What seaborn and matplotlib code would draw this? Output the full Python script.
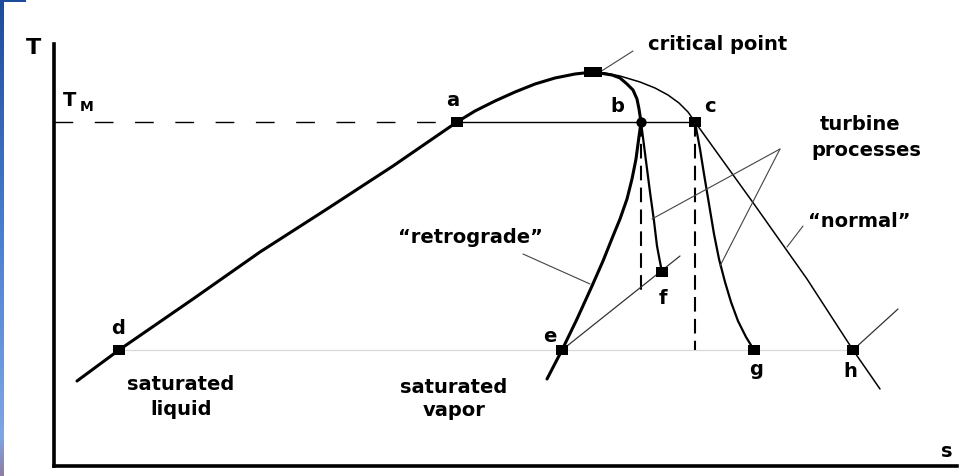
import numpy as np
import matplotlib
matplotlib.use("Agg")
import matplotlib.pyplot as plt
from matplotlib.colors import LinearSegmentedColormap
from matplotlib.patches import Rectangle
import seaborn as sns

# ---- T-s diagram data (entropy s, temperature T, arbitrary units) ----
# saturated liquid line, up to the critical point
liq_s = [23, 65, 139, 206, 273, 339, 403, 421, 441, 461, 481, 501, 521, 539]
liq_T = [85, 116, 167, 214, 257, 300, 344, 355, 365, 374, 382, 388, 392, 394]

# saturated vapor line of a "retrograde" (dry) fluid
retro_s = [539, 558, 566, 573, 579, 583, 585, 587, 584, 582, 578, 573, 566,
           559, 549, 538, 523, 508, 493]
retro_T = [394, 391, 388, 382, 376, 367, 357, 344, 322, 307, 287, 267, 247,
           230, 205, 180, 147, 116, 87]

# saturated vapor line of a "normal" (wet) fluid
norm_s = [539, 551, 566, 586, 601, 614, 625, 634, 641, 700, 753, 799, 826]
norm_T = [394, 393, 390, 384, 378, 371, 363, 354, 344, 262, 187, 116, 77]

# turbine expansions b -> f and c -> g
bf_s = [587, 592, 596, 600, 603, 606, 608]
bf_T = [344, 305, 274, 245, 220, 204, 194]
cg_s = [641, 646, 650, 655, 660, 665, 671, 677, 684, 692, 700]
cg_T = [344, 317, 292, 262, 232, 207, 184, 164, 145, 129, 116]

# temperature levels
T_M = 344
T_cond = 116

# condenser isobars in the superheated region
iso_e_s = [508, 626]
iso_e_T = [116, 210]
iso_h_s = [799, 844]
iso_h_T = [116, 157]

# isentropic references from b and c
isen_b_s = [587, 587]
isen_b_T = [344, 176]
isen_c_s = [641, 641]
isen_c_T = [344, 116]

# state points
pt_names = ["a", "c", "d", "e", "f", "g", "h"]
pt_s = [403, 641, 65, 508, 608, 700, 799]
pt_T = [344, 344, 116, 116, 194, 116, 116]
b_s, b_T = 587, 344
crit_s, crit_T = 539, 394

# ---- figure ----
sns.set_theme(style="white")
plt.rcParams["font.family"] = ["DejaVu Sans"]
plt.rcParams["font.weight"] = "bold"
plt.rcParams["lines.solid_capstyle"] = "round"
plt.rcParams["lines.solid_joinstyle"] = "round"

W, H = 966, 477
fig = plt.figure(figsize=(W / 100, H / 100), dpi=100)
fig.patch.set_facecolor("white")

ax = fig.add_axes([54 / W, 10 / H, 903 / W, 422 / H])
ax.set_xlim(0, 903)
ax.set_ylim(0, 422)
ax.set_facecolor("white")
for side in ("top", "right"):
    ax.spines[side].set_visible(False)
for side in ("left", "bottom"):
    ax.spines[side].set_linewidth(2.6)
    ax.spines[side].set_color("black")
ax.set_xticks([])
ax.set_yticks([])

lkw = dict(sort=False, estimator=None, ax=ax, legend=False)

# condensing temperature line
sns.lineplot(x=[pt_s[2], pt_s[6]], y=[T_cond, T_cond], color="#d9d9d9", lw=0.9, **lkw)

# T_M level: dashed up to a, solid from a to c
sns.lineplot(x=[0, pt_s[0]], y=[T_M, T_M], color="black", lw=1.0,
             **lkw).lines[-1].set_dashes((13.5, 15.5))
sns.lineplot(x=[pt_s[0], pt_s[1]], y=[T_M, T_M], color="black", lw=1.0, **lkw)

# saturation dome lines
sns.lineplot(x=liq_s, y=liq_T, color="black", lw=2.2, **lkw)
sns.lineplot(x=retro_s, y=retro_T, color="black", lw=2.2, **lkw)
sns.lineplot(x=norm_s, y=norm_T, color="black", lw=1.1, **lkw)

# turbine expansions
sns.lineplot(x=bf_s, y=bf_T, color="black", lw=1.6, **lkw)
sns.lineplot(x=cg_s, y=cg_T, color="black", lw=1.6, **lkw)

# isentropes (dashed)
for xs, ys in ((isen_b_s, isen_b_T), (isen_c_s, isen_c_T)):
    sns.lineplot(x=xs, y=ys, color="black", lw=1.5, **lkw).lines[-1].set_dashes((7, 3.5))

# isobars
sns.lineplot(x=iso_e_s, y=iso_e_T, color="#333333", lw=0.9, **lkw)
sns.lineplot(x=iso_h_s, y=iso_h_T, color="#333333", lw=0.9, **lkw)

# leader lines for the annotations
leaders = [
    ([546, 579], [394, 415]),   # critical point
    ([726, 598], [317, 247]),   # turbine processes (b-f)
    ([726, 666], [317, 200]),   # turbine processes (c-g)
    ([469, 536], [212, 182]),   # "retrograde"
    ([749, 733], [240, 219]),   # "normal"
]
for xs, ys in leaders:
    sns.lineplot(x=xs, y=ys, color="#444444", lw=0.8, **lkw)

# state point markers
rect = [(-1.25, -1), (1.25, -1), (1.25, 1), (-1.25, 1), (-1.25, -1)]
sns.scatterplot(x=pt_s, y=pt_T, marker=rect, s=70, color="black",
                edgecolor="black", linewidth=0, ax=ax, zorder=5)
sns.scatterplot(x=[b_s], y=[b_T], marker="o", s=55, color="black",
                edgecolor="black", linewidth=0, ax=ax, zorder=5)
crit = [(-1.8, -1), (1.8, -1), (1.8, 1), (-1.8, 1), (-1.8, -1)]
sns.scatterplot(x=[crit_s], y=[crit_T], marker=crit, s=150, color="black",
                edgecolor="black", linewidth=0, ax=ax, zorder=5)

# ---- labels ----
fs = 14
tkw = dict(fontsize=fs, fontweight="bold", color="black", clip_on=False,
           ha="center", va="center")
ax.text(-21, 419, "T", **{**tkw, "fontsize": 16})
ax.text(893, 15, "s", **tkw)
ax.text(9, 366, "T", **{**tkw, "ha": "left"})
ax.text(26, 360, "M", **{**tkw, "ha": "left", "fontsize": 10})

point_labels = {"a": (399, 367), "b": (563, 360), "c": (656, 360), "d": (64, 139),
                "e": (496, 131), "f": (609, 169), "g": (702, 97), "h": (796, 95)}
for name, (x, y) in point_labels.items():
    ax.text(x, y, name, **tkw)

ax.text(664, 422, "critical point", **tkw)
ax.text(806, 342, "turbine", **tkw)
ax.text(812, 317, "processes", **tkw)
ax.text(805, 245, "\u201cnormal\u201d", **tkw)
ax.text(416, 229, "\u201cretrograde\u201d", **tkw)
ax.text(127, 82, "saturated", **tkw)
ax.text(127, 57, "liquid", **tkw)
ax.text(400, 79, "saturated", **tkw)
ax.text(400, 56, "vapor", **tkw)

# slide frame accents on the left edge
strip = fig.add_axes([0, 0, 4 / W, 1])
cmap = LinearSegmentedColormap.from_list(
    "edge", [(0, "#8e7fa4"), (0.08, "#7fa6e4"), (0.5, "#4a80d2"), (1, "#1c4c9c")])
strip.imshow(np.linspace(0, 1, 200)[:, None], aspect="auto", cmap=cmap,
             origin="lower", extent=[0, 1, 0, 1])
strip.axis("off")
fig.add_artist(Rectangle((0, 1 - 2.5 / H), 26 / W, 2.5 / H,
                         transform=fig.transFigure, color="#1c4c9c", lw=0))

fig.savefig("out.png", dpi=100)
